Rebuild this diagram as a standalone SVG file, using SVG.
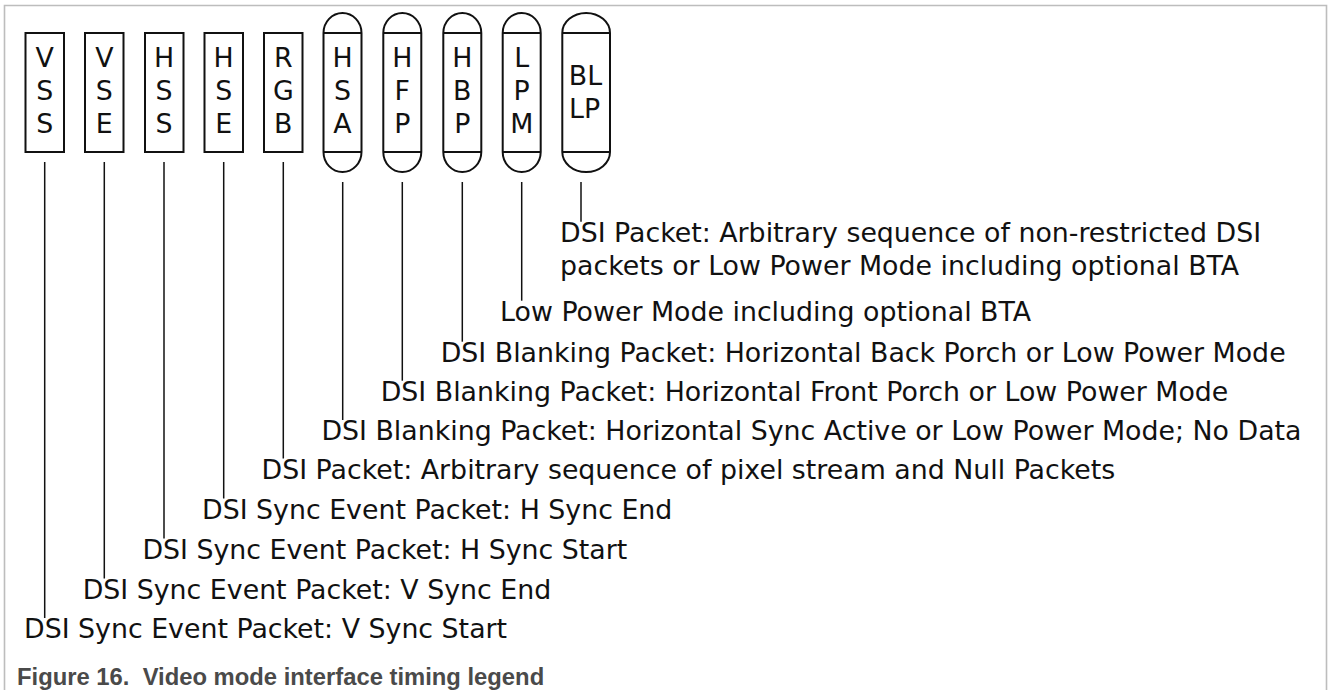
<svg xmlns="http://www.w3.org/2000/svg" width="1328" height="690" viewBox="0 0 1328 690">
<style>
.frame{fill:none;stroke:#bdbdbd;stroke-width:1.6}
.box{fill:#fff;stroke:#111;stroke-width:2}
.cap{fill:#fff;stroke:#111;stroke-width:2}
.sep{stroke:#111;stroke-width:2}
.lbl{font-family:"DejaVu Sans",Verdana,sans-serif;font-size:26.8px;fill:#111}
.in{font-family:"DejaVu Sans",Verdana,sans-serif;font-size:26.8px;fill:#111;text-anchor:middle}
.conn line{stroke:#111;stroke-width:1.5}
.caption{font-family:"Liberation Sans",Arial,sans-serif;font-weight:bold;font-size:23.8px;fill:#4a4a4a;white-space:pre}
</style>
<rect x="0" y="0" width="1328" height="690" fill="#fff"/>
<path class="frame" d="M4.5,700 V5.5 H1326.5 V700"/>

<g id="VSS"><rect class="box" x="25.5" y="33" width="38.5" height="119"/>
<text class="in" x="44.7" y="66.7">V</text><text class="in" x="44.7" y="100">S</text><text class="in" x="44.7" y="133.3">S</text></g>
<g id="VSE"><rect class="box" x="85" y="33" width="38.5" height="119"/>
<text class="in" x="104.3" y="66.7">V</text><text class="in" x="104.3" y="100">S</text><text class="in" x="104.3" y="133.3">E</text></g>
<g id="HSS"><rect class="box" x="145" y="33" width="38.5" height="119"/>
<text class="in" x="164" y="66.7">H</text><text class="in" x="164" y="100">S</text><text class="in" x="164" y="133.3">S</text></g>
<g id="HSE"><rect class="box" x="204.5" y="33" width="38.5" height="119"/>
<text class="in" x="223.7" y="66.7">H</text><text class="in" x="223.7" y="100">S</text><text class="in" x="223.7" y="133.3">E</text></g>
<g id="RGB"><rect class="box" x="264" y="33" width="38.5" height="119"/>
<text class="in" x="283.3" y="66.7">R</text><text class="in" x="283.3" y="100">G</text><text class="in" x="283.3" y="133.3">B</text></g>

<g id="HSA"><path class="cap" d="M323.5,152 V33 A19,20 0 0 1 361.5,33 V152 A19,20 0 0 1 323.5,152 Z"/>
<line class="sep" x1="323.5" y1="33" x2="361.5" y2="33"/><line class="sep" x1="323.5" y1="152" x2="361.5" y2="152"/>
<text class="in" x="342.5" y="66.7">H</text><text class="in" x="342.5" y="100">S</text><text class="in" x="342.5" y="133.3">A</text></g>
<g id="HFP"><path class="cap" d="M383.3,152 V33 A19,20 0 0 1 421.3,33 V152 A19,20 0 0 1 383.3,152 Z"/>
<line class="sep" x1="383.3" y1="33" x2="421.3" y2="33"/><line class="sep" x1="383.3" y1="152" x2="421.3" y2="152"/>
<text class="in" x="402.3" y="66.7">H</text><text class="in" x="402.3" y="100">F</text><text class="in" x="402.3" y="133.3">P</text></g>
<g id="HBP"><path class="cap" d="M443.3,152 V33 A19,20 0 0 1 481.3,33 V152 A19,20 0 0 1 443.3,152 Z"/>
<line class="sep" x1="443.3" y1="33" x2="481.3" y2="33"/><line class="sep" x1="443.3" y1="152" x2="481.3" y2="152"/>
<text class="in" x="462.3" y="66.7">H</text><text class="in" x="462.3" y="100">B</text><text class="in" x="462.3" y="133.3">P</text></g>
<g id="LPM"><path class="cap" d="M502.7,152 V33 A19,20 0 0 1 540.7,33 V152 A19,20 0 0 1 502.7,152 Z"/>
<line class="sep" x1="502.7" y1="33" x2="540.7" y2="33"/><line class="sep" x1="502.7" y1="152" x2="540.7" y2="152"/>
<text class="in" x="521.7" y="66.7">L</text><text class="in" x="521.7" y="100">P</text><text class="in" x="521.7" y="133.3">M</text></g>
<g id="BLLP"><path class="cap" d="M562.3,152 V33 A23.85,20 0 0 1 610,33 V152 A23.85,20 0 0 1 562.3,152 Z"/>
<line class="sep" x1="562.3" y1="33" x2="610" y2="33"/><line class="sep" x1="562.3" y1="152" x2="610" y2="152"/>
<text class="in" x="585.5" y="85">BL</text><text class="in" x="584.5" y="118.3">LP</text></g>

<g id="connectors" class="conn">
<line x1="44.7" y1="162" x2="44.7" y2="618"/>
<line x1="104.3" y1="162" x2="104.3" y2="578.5"/>
<line x1="164" y1="162" x2="164" y2="538.5"/>
<line x1="223.7" y1="162" x2="223.7" y2="498.5"/>
<line x1="283.3" y1="162" x2="283.3" y2="458.5"/>
<line x1="342.7" y1="182" x2="342.7" y2="420"/>
<line x1="402.3" y1="182" x2="402.3" y2="380.7"/>
<line x1="462.3" y1="182" x2="462.3" y2="341.7"/>
<line x1="521.7" y1="182" x2="521.7" y2="300.7"/>
<line x1="581" y1="182" x2="581" y2="221.7"/>
</g>

<g id="labels">
<text class="lbl" x="560" y="241.7">DSI Packet: Arbitrary sequence of non-restricted DSI</text>
<text class="lbl" x="560" y="274.5">packets or Low Power Mode including optional BTA</text>
<text class="lbl" x="500.1" y="320.7">Low Power Mode including optional BTA</text>
<text class="lbl" x="440.7" y="361.7">DSI Blanking Packet: Horizontal Back Porch or Low Power Mode</text>
<text class="lbl" x="380.7" y="400.7">DSI Blanking Packet: Horizontal Front Porch or Low Power Mode</text>
<text class="lbl" x="321.4" y="440">DSI Blanking Packet: Horizontal Sync Active or Low Power Mode; No Data</text>
<text class="lbl" x="261.5" y="478.5">DSI Packet: Arbitrary sequence of pixel stream and Null Packets</text>
<text class="lbl" x="202" y="518.5">DSI Sync Event Packet: H Sync End</text>
<text class="lbl" x="142.4" y="558.5">DSI Sync Event Packet: H Sync Start</text>
<text class="lbl" x="82.7" y="598.5">DSI Sync Event Packet: V Sync End</text>
<text class="lbl" x="24" y="638">DSI Sync Event Packet: V Sync Start</text>
</g>

<text class="caption" x="17" y="684.5" xml:space="preserve">Figure 16.  Video mode interface timing legend</text>
</svg>
